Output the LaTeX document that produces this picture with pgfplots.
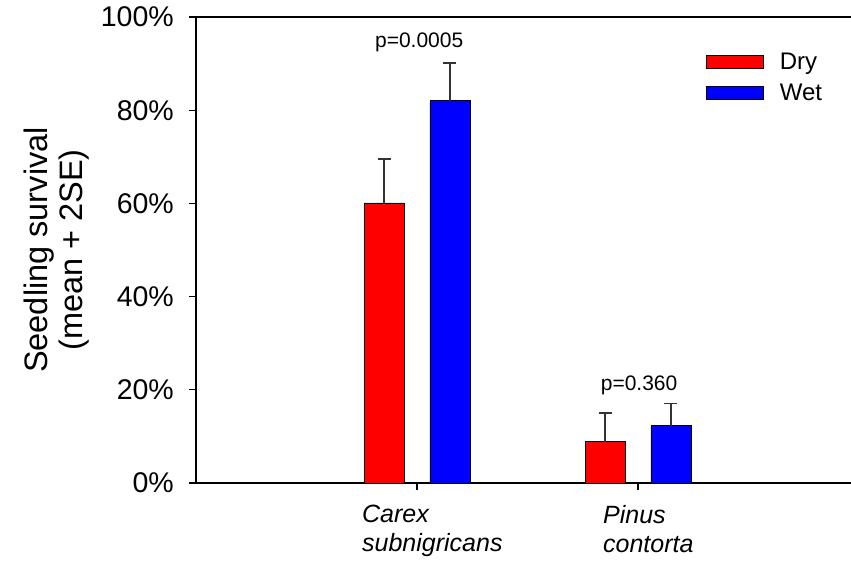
\documentclass[border=0pt]{standalone}
\usepackage{pgfplots}
\pgfplotsset{compat=1.18}
\usepackage{fontspec}
\setmainfont{Liberation Sans}
\definecolor{errgray}{gray}{0.2}
\begin{document}
\begin{tikzpicture}
\begin{axis}[
  name=ax,
  scale only axis, width=655pt, height=466pt,
  at={(0,0)}, anchor=south west,
  xmin=0, xmax=2.964, ymin=0, ymax=100,
  axis x line*=box, axis y line*=left,
  axis line style={line width=1.3pt},
  tick align=outside, tick pos=left, major tick length=7pt,
  tick style={line width=1.1pt, black},
  xtick={1,2}, xticklabels={,,},
  ytick={0,20,...,100}, yticklabels={0\%,20\%,40\%,60\%,80\%,100\%},
  yticklabel style={font=\fontsize{28.5}{30}\selectfont, inner sep=0pt, xshift=-15pt},
  ylabel={Seedling survival\\(mean + 2SE)},
  every axis y label/.style={at={([xshift=-139pt]axis description cs:0,0.5)}, rotate=90, anchor=center, align=center, font=\fontsize{32.5}{35}\selectfont},
  clip=false,
  legend style={at={(axis description cs:0.779,0.923)}, anchor=north west, draw=none, fill=none,
    font=\fontsize{24}{26}\selectfont, inner sep=0pt, row sep=12.5pt, nodes={inner sep=0pt}},
  legend cell align=left,
  legend image code/.code={\draw[#1, draw=black, line width=0.8pt] (0pt,-6.5pt) rectangle (57pt,6.5pt); \path[draw=none, fill=none] (0pt,0pt) -- (73pt,0pt);},
]
\addplot[ybar, bar width=40pt, bar shift=0pt, fill=red, draw=black, line width=0.8pt,
  error bars/.cd, y dir=plus, y explicit,
  error bar style={line width=1.3pt, errgray},
  error mark options={rotate=90, mark size=6.5pt, line width=1.3pt, errgray}]
  coordinates {(0.851,60.1) +- (0,9.4) (1.851,8.9) +- (0,6.1)};
\addlegendentry{Dry}
\addplot[ybar, bar width=40pt, bar shift=0pt, fill=blue, draw=black, line width=0.8pt,
  error bars/.cd, y dir=plus, y explicit,
  error bar style={line width=1.3pt, errgray},
  error mark options={rotate=90, mark size=6.5pt, line width=1.3pt, errgray}]
  coordinates {(1.149,82.0) +- (0,8.1) (2.149,12.3) +- (0,4.8)};
\addlegendentry{Wet}
\node[font=\fontsize{21}{23}\selectfont] at (axis cs:1.01,94.6) {p=0.0005};
\node[font=\fontsize{21}{23}\selectfont] at (axis cs:2.005,21.0) {p=0.360};
\node[anchor=north west, align=left, inner sep=0pt, font=\fontsize{25}{29}\itshape] at ([xshift=-55pt, yshift=-22pt]axis cs:1,0) {Carex\\subnigricans};
\node[anchor=north west, align=left, inner sep=0pt, font=\fontsize{25}{29}\itshape] at ([xshift=-35pt, yshift=-22pt]axis cs:2,0) {Pinus\\contorta};
\end{axis}
\pgfresetboundingbox
\path (-196pt,-78pt) rectangle (655pt,483pt);
\end{tikzpicture}
\end{document}
